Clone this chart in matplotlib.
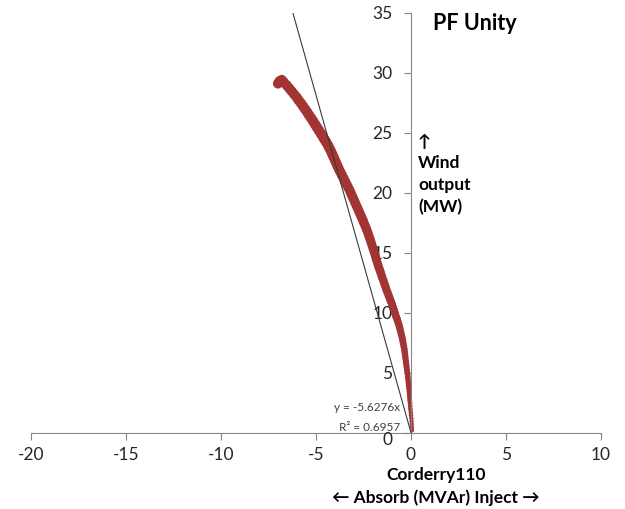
import numpy as np
import matplotlib
matplotlib.use("Agg")
import matplotlib.pyplot as plt

# Reactive power (MVAr, + = inject, - = absorb) against wind farm output (MW)
q_mvar = [
    0.06, 0.05, 0.04, 0.03, 0.02, 0.00, -0.01, -0.03, -0.04, -0.05,
    -0.07, -0.08, -0.09, -0.10, -0.12, -0.13, -0.14, -0.16, -0.17, -0.19,
    -0.21, -0.23, -0.25, -0.27, -0.29, -0.31, -0.33, -0.35, -0.38, -0.41,
    -0.44, -0.47, -0.51, -0.55, -0.59, -0.63, -0.68, -0.73, -0.79, -0.84,
    -0.89, -0.95, -1.00, -1.06, -1.12, -1.18, -1.24, -1.30, -1.35, -1.41,
    -1.46, -1.52, -1.57, -1.62, -1.68, -1.73, -1.78, -1.83, -1.87, -1.92,
    -1.97, -2.02, -2.07, -2.12, -2.17, -2.23, -2.28, -2.34, -2.40, -2.47,
    -2.53, -2.60, -2.67, -2.74, -2.81, -2.88, -2.95, -3.02, -3.09, -3.16,
    -3.23, -3.31, -3.39, -3.47, -3.55, -3.63, -3.71, -3.79, -3.86, -3.93,
    -4.00, -4.07, -4.14, -4.21, -4.29, -4.37, -4.46, -4.56, -4.65, -4.75,
    -4.85, -4.95, -5.05, -5.15, -5.25, -5.36, -5.46, -5.57, -5.68, -5.79,
    -5.91, -6.02, -6.15, -6.28, -6.41, -6.54, -6.69, -6.80, -7.00, -6.92,
]
p_mw = [
    0.20, 0.45, 0.70, 0.95, 1.20, 1.45, 1.70, 1.95, 2.20, 2.45,
    2.70, 2.95, 3.20, 3.45, 3.70, 3.95, 4.20, 4.45, 4.70, 4.95,
    5.20, 5.45, 5.70, 5.95, 6.20, 6.45, 6.70, 6.95, 7.20, 7.45,
    7.70, 7.95, 8.20, 8.45, 8.70, 8.95, 9.20, 9.45, 9.70, 9.95,
    10.20, 10.45, 10.70, 10.95, 11.20, 11.45, 11.70, 11.95, 12.20, 12.45,
    12.70, 12.95, 13.20, 13.45, 13.70, 13.95, 14.20, 14.45, 14.70, 14.95,
    15.20, 15.45, 15.70, 15.95, 16.20, 16.45, 16.70, 16.95, 17.20, 17.45,
    17.70, 17.95, 18.20, 18.45, 18.70, 18.95, 19.20, 19.45, 19.70, 19.95,
    20.20, 20.45, 20.70, 20.95, 21.20, 21.45, 21.70, 21.95, 22.20, 22.45,
    22.70, 22.95, 23.20, 23.45, 23.70, 23.95, 24.20, 24.45, 24.70, 24.95,
    25.20, 25.45, 25.70, 25.95, 26.20, 26.45, 26.70, 26.95, 27.20, 27.45,
    27.70, 27.95, 28.20, 28.45, 28.70, 28.95, 29.20, 29.40, 29.10, 29.30,
]

# Linear trendline forced through the origin
trend_slope = -5.6276
trend_r2 = 0.6957

x_ticks = [-20, -15, -10, -5, 0, 5, 10]
y_ticks = [0, 5, 10, 15, 20, 25, 30, 35]

FONT = ["Lato", "DejaVu Sans"]
plt.rcParams["font.family"] = FONT

W, H = 625, 509
fig = plt.figure(figsize=(W / 100, H / 100), dpi=100)
ax = fig.add_axes([31 / W, 1 - 432.7 / H, 570 / W, 420 / H])

axis_grey = "#868686"
text_col = "#262626"

# marker diameter (px) grows with output: the cloud widens as it rises
p_arr = np.asarray(p_mw)
diam_px = np.interp(p_arr, [0, 3, 5, 10, 17, 25, 30],
                    [4.0, 5.0, 6.0, 8.0, 9.5, 10.5, 10.0])
sizes = (diam_px * 72 / 100) ** 2
ax.scatter(q_mvar, p_mw, s=sizes, color="#A23533", linewidths=0, zorder=2)

q_arr = np.asarray(q_mvar)
q_line = np.array([q_arr.min(), q_arr.max()])
ax.plot(q_line, trend_slope * q_line, color="#3A3A3A", lw=0.8, zorder=3)

ax.set_xlim(x_ticks[0], x_ticks[-1])
ax.set_ylim(y_ticks[0], y_ticks[-1])
ax.set_xticks(x_ticks)
ax.set_yticks(y_ticks)
ax.set_xticklabels([str(v) for v in x_ticks])
ax.set_yticklabels([""] + [str(v) for v in y_ticks[1:]])

for side in ("top", "right"):
    ax.spines[side].set_visible(False)
ax.spines["left"].set_position(("data", 0))
ax.spines["bottom"].set_position(("data", 0))
for side in ("left", "bottom"):
    ax.spines[side].set_color(axis_grey)
    ax.spines[side].set_linewidth(0.8)

ax.tick_params(axis="both", direction="out", length=5, width=0.8,
               color=axis_grey, labelsize=12.5, labelcolor=text_col)
ax.tick_params(axis="y", pad=8.5)
ax.tick_params(axis="x", pad=5.5)

# y-axis zero label sits slightly below the origin
ax.annotate("0", xy=(0, 0), xytext=(-13.5, -5), textcoords="offset points",
            ha="right", va="center", fontsize=12.5, color=text_col)

# trendline equation
ax.annotate(f"y = {trend_slope}x", xy=(0, 0), xytext=(-8, 18),
            textcoords="offset points", ha="right", va="center",
            fontsize=8.5, color="#404040")
ax.annotate(f"R² = {trend_r2}", xy=(0, 0), xytext=(-8, 3.5),
            textcoords="offset points", ha="right", va="center",
            fontsize=8.5, color="#404040")

ax.set_facecolor("white")

# titles and axis captions
fig.text(433 / W, 1 - 23 / H, "PF Unity", fontsize=15.5, fontweight="bold",
         ha="left", va="center", color="black")
fig.text(418 / W, 1 - 142 / H, "↑", fontsize=12.5, fontweight="bold",
         ha="left", va="center", color="black")
for txt, yp in (("Wind", 162.7), ("output", 185), ("(MW)", 206.7)):
    fig.text(418 / W, 1 - yp / H, txt, fontsize=12.5, fontweight="bold",
             ha="left", va="center", color="black")
fig.text(436 / W, 1 - 475 / H, "Corderry110", fontsize=12.5, fontweight="bold",
         ha="center", va="center", color="black")
fig.text(436 / W, 1 - 498 / H, "← Absorb (MVAr) Inject →", fontsize=12.5,
         fontweight="bold", ha="center", va="center", color="black")

fig.savefig("out.png", dpi=100, facecolor="white")
